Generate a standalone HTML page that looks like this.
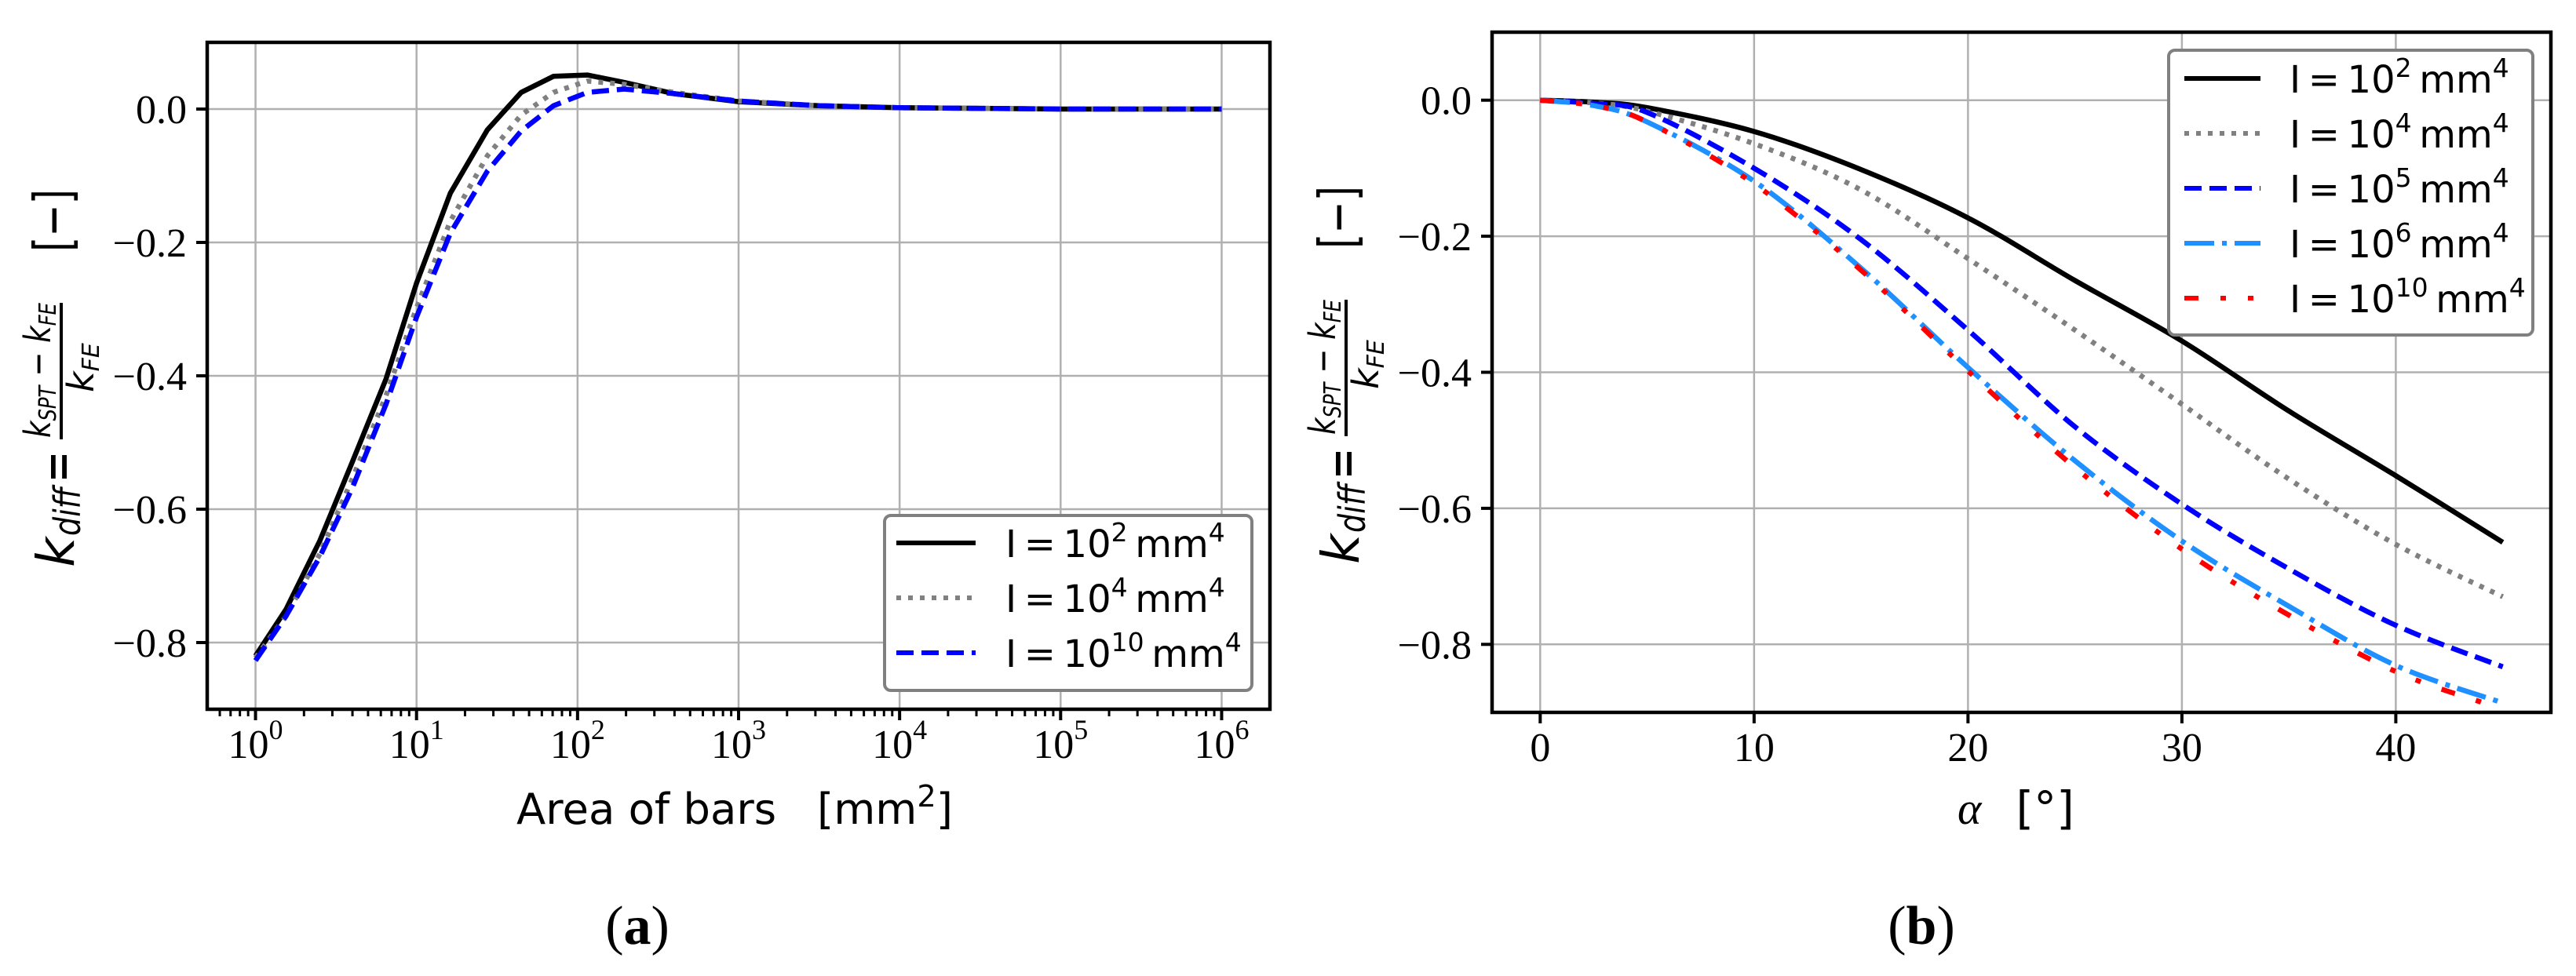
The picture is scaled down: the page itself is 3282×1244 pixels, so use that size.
<!DOCTYPE html>
<html><head><meta charset="utf-8"><style>
html,body{margin:0;padding:0;background:#fff;}
svg{display:block;}
text{fill:#000;}
.tk{font-family:"Liberation Serif",serif;font-size:52px;}
.sans{font-family:"DejaVu Sans","Liberation Sans",sans-serif;}
</style></head><body>
<svg id="fig" width="3282" height="1244" viewBox="0 0 3282 1244" xmlns="http://www.w3.org/2000/svg">
<g id="pa"></g>
<g id="pb"></g>
</svg>
<script>
// ---------- Panel (a) data ----------
const aLogArea = [0, 0.19, 0.40, 0.60, 0.81, 1.0, 1.21, 1.44, 1.65, 1.85, 2.06, 2.29, 2.6, 3.0, 3.5, 4.0, 4.5, 5.0, 5.5, 6.0];
const aI2  = [-0.82, -0.75, -0.647, -0.53, -0.405, -0.261, -0.126, -0.031, 0.025, 0.049, 0.051, 0.040, 0.023, 0.011, 0.005, 0.002, 0.001, 0, 0, 0];
const aI4  = [-0.823, -0.76, -0.667, -0.555, -0.43, -0.298, -0.168, -0.07, -0.009, 0.025, 0.042, 0.037, 0.025, 0.012, 0.005, 0.002, 0.001, 0, 0, 0];
const aI10 = [-0.827, -0.76, -0.671, -0.569, -0.443, -0.312, -0.186, -0.093, -0.033, 0.005, 0.025, 0.030, 0.023, 0.012, 0.005, 0.002, 0.001, 0, 0, 0];
const aXTicks = [0, 1, 2, 3, 4, 5, 6];
const aYTicks = [0.0, -0.2, -0.4, -0.6, -0.8];
const aLegend = ["2", "4", "10"];

// ---------- Panel (b) data ----------
const bAlpha = [0, 2.5, 5, 10, 15, 20, 25, 30, 35, 40, 45];
const bI2  = [0, -0.003, -0.011, -0.046, -0.102, -0.173, -0.265, -0.354, -0.457, -0.552, -0.65];
const bI4  = [0, -0.004, -0.016, -0.064, -0.132, -0.233, -0.338, -0.447, -0.557, -0.653, -0.73];
const bI5  = [0, -0.005, -0.018, -0.100, -0.205, -0.338, -0.480, -0.594, -0.689, -0.772, -0.833];
const bI6  = [0, -0.008, -0.032, -0.119, -0.247, -0.393, -0.530, -0.648, -0.744, -0.831, -0.886];
const bI10alpha = [0, 2.5, 5, 10, 15, 20, 25, 30, 35, 40, 44];
const bI10 = [0, -0.008, -0.032, -0.123, -0.250, -0.398, -0.540, -0.660, -0.757, -0.840, -0.885];
const bXTicks = [0, 10, 20, 30, 40];
const bYTicks = [0.0, -0.2, -0.4, -0.6, -0.8];
const bLegend = ["2", "4", "5", "6", "10"];

const NS = "http://www.w3.org/2000/svg";
function el(tag, attrs, parent, txt) {
  const e = document.createElementNS(NS, tag);
  for (const k in attrs) e.setAttribute(k, attrs[k]);
  if (txt !== undefined) e.textContent = txt;
  parent.appendChild(e);
  return e;
}
function fmt(v){ return (v < 0 ? "\u2212" : "") + Math.abs(v).toFixed(1); }
function smooth(pts){
  let d = "M" + pts[0][0].toFixed(1) + "," + pts[0][1].toFixed(1);
  for (let i = 0; i < pts.length - 1; i++) {
    const p0 = pts[Math.max(0, i - 1)], p1 = pts[i], p2 = pts[i + 1], p3 = pts[Math.min(pts.length - 1, i + 2)];
    const c1x = p1[0] + (p2[0] - p0[0]) / 6, c1y = p1[1] + (p2[1] - p0[1]) / 6;
    const c2x = p2[0] - (p3[0] - p1[0]) / 6, c2y = p2[1] - (p3[1] - p1[1]) / 6;
    d += " C" + c1x.toFixed(1) + "," + c1y.toFixed(1) + " " + c2x.toFixed(1) + "," + c2y.toFixed(1) + " " + p2[0].toFixed(1) + "," + p2[1].toFixed(1);
  }
  return d;
}

// ---------- Panel (a) ----------
const A = {L:264, R:1618, T:54, B:904, x0:-0.3, x1:6.3, y0:-0.9, y1:0.1};
const axA = v => A.L + (v - A.x0) / (A.x1 - A.x0) * (A.R - A.L);
const ayA = v => A.B - (v - A.y0) / (A.y1 - A.y0) * (A.B - A.T);
const pa = document.getElementById("pa");

aXTicks.forEach(t => {
  const g = el("line", {x1:axA(t), x2:axA(t), y1:A.T, y2:A.B, stroke:"#b0b0b0", "stroke-width":2.5}, pa);
  
  
});
aYTicks.forEach(t => {
  const g = el("line", {x1:A.L, x2:A.R, y1:ayA(t), y2:ayA(t), stroke:"#b0b0b0", "stroke-width":2.5}, pa);
  
  
});
const aSeries = [
  {v:aI2, c:"#000", d:"none", n:"series-i-1e2"},
  {v:aI4, c:"#808080", d:"6,9", n:"series-i-1e4"},
  {v:aI10, c:"#0000ff", d:"22,10", n:"series-i-1e10"}
];
aSeries.forEach(s => {
  const pts = aLogArea.map((x, i) => axA(x).toFixed(1) + "," + ayA(s.v[i]).toFixed(1)).join(" ");
  const p = el("polyline", {points:pts, fill:"none", stroke:s.c, "stroke-width":6.5, "stroke-dasharray":s.d, "stroke-linejoin":"round"}, pa);
  
  
});
const spA = el("rect", {x:A.L, y:A.T, width:A.R - A.L, height:A.B - A.T, fill:"none", stroke:"#000", "stroke-width":4.5}, pa);


for (let d = -1; d <= 6; d++) {
  for (let m = 2; m <= 9; m++) {
    const lv = d + Math.log10(m);
    if (lv < A.x0 || lv > A.x1) continue;
    el("line", {x1:axA(lv), x2:axA(lv), y1:A.B, y2:A.B + 9, stroke:"#000", "stroke-width":3}, pa);
  }
}
aXTicks.forEach(t => {
  el("line", {x1:axA(t), x2:axA(t), y1:A.B, y2:A.B + 14, stroke:"#000", "stroke-width":4}, pa);
  const tx = el("text", {x:axA(t), y:966, "text-anchor":"middle", class:"tk"}, pa);
  
  
  el("tspan", {}, tx, "10");
  el("tspan", {dy:-24, "font-size":"36px"}, tx, String(t));
});
aYTicks.forEach(t => {
  el("line", {x1:A.L - 14, x2:A.L, y1:ayA(t), y2:ayA(t), stroke:"#000", "stroke-width":4}, pa);
  const tx = el("text", {x:238, y:ayA(t) + 18, "text-anchor":"end", class:"tk"}, pa, fmt(t));
  
  
});
const lgA = el("g", {}, pa);


el("rect", {x:1127, y:657, width:468, height:223, rx:8, fill:"#fff", stroke:"#808080", "stroke-width":4}, lgA);
aLegend.forEach((e, i) => {
  const cy = 692 + i * 70;
  const s = aSeries[i];
  el("line", {x1:1142, x2:1243, y1:cy, y2:cy, stroke:s.c, "stroke-width":6, "stroke-dasharray":s.d}, lgA);
  const tx = el("text", {x:1281, y:cy + 18, class:"sans", "font-size":"48px"}, lgA);
  
  
  el("tspan", {}, tx, "I\u2009=\u200910");
  el("tspan", {dy:-20, "font-size":"33px"}, tx, e);
  el("tspan", {dy:20}, tx, "\u2009mm");
  el("tspan", {dy:-20, "font-size":"33px"}, tx, "4");
});

// ---------- Panel (b) ----------
const B = {L:1901, R:3250, T:41, B:908, x0:-2.25, x1:47.25, y0:-0.9, y1:0.1};
const axB = v => B.L + (v - B.x0) / (B.x1 - B.x0) * (B.R - B.L);
const ayB = v => B.B - (v - B.y0) / (B.y1 - B.y0) * (B.B - B.T);
const pb = document.getElementById("pb");
bXTicks.forEach(t => {
  const g = el("line", {x1:axB(t), x2:axB(t), y1:B.T, y2:B.B, stroke:"#b0b0b0", "stroke-width":2.5}, pb);
  
  
});
bYTicks.forEach(t => {
  const g = el("line", {x1:B.L, x2:B.R, y1:ayB(t), y2:ayB(t), stroke:"#b0b0b0", "stroke-width":2.5}, pb);
  
  
});
const bSeries = [
  {x:bAlpha, v:bI2, c:"#000", d:"none", n:"series-i-1e2"},
  {x:bAlpha, v:bI4, c:"#808080", d:"6,9", n:"series-i-1e4"},
  {x:bAlpha, v:bI5, c:"#0000ff", d:"22,10", n:"series-i-1e5"},
  {x:bAlpha, v:bI6, c:"#1e90ff", d:"38,10,6,10", n:"series-i-1e6"},
  {x:bI10alpha, v:bI10, c:"#ff0000", d:"18,28,7,28,7,28", n:"series-i-1e10"}
];
bSeries.forEach(s => {
  const pts = s.x.map((x, i) => [axB(x), ayB(s.v[i])]);
  const p = el("path", {d:smooth(pts), fill:"none", stroke:s.c, "stroke-width":6.5, "stroke-dasharray":s.d, "stroke-linejoin":"round"}, pb);
  
  
});
const spB = el("rect", {x:B.L, y:B.T, width:B.R - B.L, height:B.B - B.T, fill:"none", stroke:"#000", "stroke-width":4.5}, pb);


bXTicks.forEach(t => {
  el("line", {x1:axB(t), x2:axB(t), y1:B.B, y2:B.B + 14, stroke:"#000", "stroke-width":4}, pb);
  const tx = el("text", {x:axB(t), y:970, "text-anchor":"middle", class:"tk"}, pb, String(t));
  
  
});
bYTicks.forEach(t => {
  el("line", {x1:B.L - 14, x2:B.L, y1:ayB(t), y2:ayB(t), stroke:"#000", "stroke-width":4}, pb);
  const tx = el("text", {x:1875, y:ayB(t) + 18, "text-anchor":"end", class:"tk"}, pb, fmt(t));
  
  
});
const lgB = el("g", {}, pb);


el("rect", {x:2763, y:64, width:464, height:363, rx:8, fill:"#fff", stroke:"#808080", "stroke-width":4}, lgB);
bLegend.forEach((e, i) => {
  const cy = 100 + i * 70;
  const s = bSeries[i];
  el("line", {x1:2783, x2:2880, y1:cy, y2:cy, stroke:s.c, "stroke-width":6, "stroke-dasharray":s.d}, lgB);
  const tx = el("text", {x:2917, y:cy + 18, class:"sans", "font-size":"48px"}, lgB);
  
  
  el("tspan", {}, tx, "I\u2009=\u200910");
  el("tspan", {dy:-20, "font-size":"33px"}, tx, e);
  el("tspan", {dy:20}, tx, "\u2009mm");
  el("tspan", {dy:-20, "font-size":"33px"}, tx, "4");
});

// ---------- y-axis labels (rotated) ----------
function ylabel(parent, cx, ubase) {
  const g = el("g", {transform:"translate(" + cx + "," + ubase + ") rotate(-90)"}, parent);
  
  
  const f = '"DejaVu Sans","Liberation Sans",sans-serif';
  el("text", {x:0, y:94, "font-family":f, "font-style":"italic", "font-size":"66px"}, g, "k");
  el("text", {x:40, y:102, "font-family":f, "font-style":"italic", "font-size":"46px", textLength:"62", lengthAdjust:"spacingAndGlyphs"}, g, "diff");
  el("text", {x:108, y:97, "font-family":f, "font-size":"70px", textLength:"40", lengthAdjust:"spacingAndGlyphs"}, g, "=");
  const num = el("text", {x:165, y:64, "font-family":f, "font-style":"italic", "font-size":"46px", textLength:"172", lengthAdjust:"spacingAndGlyphs"}, g);
  el("tspan", {}, num, "k");
  el("tspan", {"font-size":"30px", dy:7}, num, "SPT");
  el("tspan", {"font-style":"normal", dy:-7}, num, " \u2212 ");
  el("tspan", {}, num, "k");
  el("tspan", {"font-size":"30px", dy:7}, num, "FE");
  el("line", {x1:163, x2:337, y1:78, y2:78, stroke:"#000", "stroke-width":4}, g);
  const den = el("text", {x:223, y:119, "font-family":f, "font-style":"italic", "font-size":"46px"}, g);
  el("tspan", {}, den, "k");
  el("tspan", {"font-size":"30px", dy:7}, den, "FE");
  el("text", {x:402, y:90, "font-family":f, "font-size":"66px", textLength:"80", lengthAdjust:"spacingAndGlyphs"}, g, "[\u2212]");
}
ylabel(pa, 0, 723);
ylabel(pb, 1637, 719);

// ---------- x labels and captions ----------
const xa = el("text", {x:658, y:1050, class:"sans", "font-size":"54px", textLength:"556", lengthAdjust:"spacingAndGlyphs"}, pa);


el("tspan", {}, xa, "Area of bars \u00a0\u00a0[mm");
el("tspan", {dy:-22, "font-size":"38px"}, xa, "2");
el("tspan", {dy:22}, xa, "]");

const xb = el("text", {x:2494, y:1050, "font-size":"58px"}, pb);


el("tspan", {"font-family":'"Liberation Serif",serif', "font-style":"italic"}, xb, "\u03b1");
el("tspan", {"font-family":'"DejaVu Sans","Liberation Sans",sans-serif', dx:44}, xb, "[\u00b0]");

const ca = el("text", {x:812, y:1203, "text-anchor":"middle", "font-family":'"Liberation Serif",serif', "font-size":"70px"}, pa);


el("tspan", {}, ca, "(");
el("tspan", {"font-weight":"bold"}, ca, "a");
el("tspan", {}, ca, ")");
const cb = el("text", {x:2448, y:1203, "text-anchor":"middle", "font-family":'"Liberation Serif",serif', "font-size":"70px"}, pb);


el("tspan", {}, cb, "(");
el("tspan", {"font-weight":"bold"}, cb, "b");
el("tspan", {}, cb, ")");
</script>
</body></html>
